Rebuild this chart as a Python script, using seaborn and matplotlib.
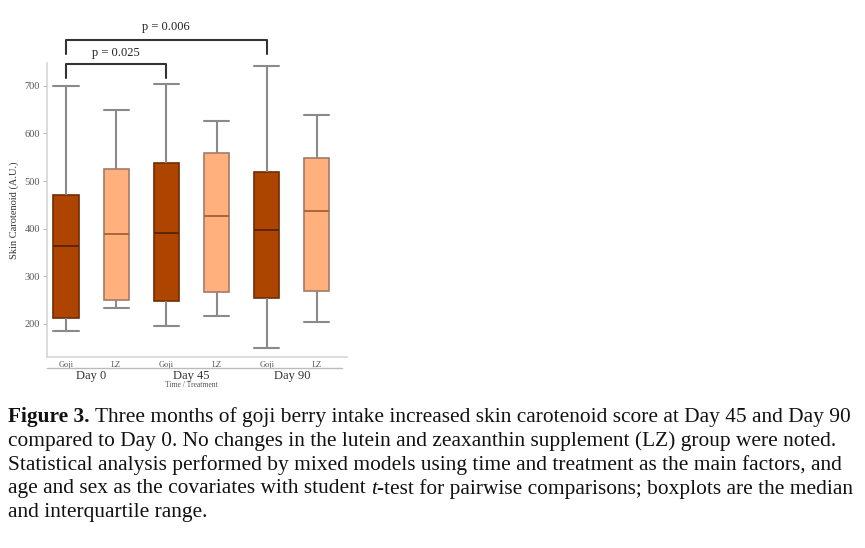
import numpy as np
import pandas as pd
import seaborn as sns
import matplotlib.pyplot as plt

# five-number summaries: low whisker, Q1, median, Q3, high whisker
days = ['Day 0', 'Day 0', 'Day 45', 'Day 45', 'Day 90', 'Day 90']
treatments = ['Goji', 'LZ', 'Goji', 'LZ', 'Goji', 'LZ']
low = [185, 234, 196, 216, 150, 204]
q1 = [213, 250, 248, 267, 255, 268]
median = [364, 389, 391, 427, 398, 437]
q3 = [471, 526, 538, 559, 519, 549]
high = [700, 650, 704, 627, 742, 638]

day_labels = ['Day 0', 'Day 45', 'Day 90']
pvals = ['p = 0.025', 'p = 0.006']

hue_order = ['Goji', 'LZ']
fill_colors = {'Goji': '#ad4500', 'LZ': '#ffb07c'}
edge_colors = {'Goji': '#6e2c05', 'LZ': '#a27a68'}
median_colors = {'Goji': '#5e2604', 'LZ': '#a8643c'}

rows = []
for i in range(6):
    grp = days[i] + ' ' + treatments[i]
    for v in [low[i], q1[i], median[i], q3[i], high[i]]:
        rows.append({'group': grp, 'treatment': treatments[i], 'value': v})
df = pd.DataFrame(rows)
order = [d + ' ' + t for d, t in zip(days, treatments)]

sns.set_style('white')
plt.rcParams['font.family'] = ['Liberation Serif', 'DejaVu Serif']

fig = plt.figure(figsize=(8.65, 5.48), dpi=100)
ax = fig.add_axes([0.0543, 0.3485, 0.3468, 0.5365])

sns.boxplot(data=df, x='group', y='value', hue='treatment', order=order,
            hue_order=hue_order, palette=fill_colors, dodge=False, width=0.5,
            whis=(0, 100), saturation=1, showfliers=False, legend=False,
            linewidth=1.4, capwidths=0.5, ax=ax)

# restyle boxes, one container per treatment
for name, cont in zip(hue_order, ax.containers):
    for b in cont.boxes:
        b.set_edgecolor(edge_colors[name])
        b.set_linewidth(1.2)
    for ln in cont.whiskers + cont.caps:
        ln.set_color('#8a8a8a')
        ln.set_linewidth(1.5)
    for ln in cont.medians:
        ln.set_color(median_colors[name])
        ln.set_linewidth(1.4)

ax.set_xlim(-0.38, 5.6)
ax.set_ylim(130, 748)
ax.set_yticks([200, 300, 400, 500, 600, 700])
ax.tick_params(axis='y', labelsize=7.5, labelcolor='#555555', length=3,
               color='#bbbbbb', left=True, pad=2)
ax.tick_params(axis='x', length=0, labelsize=6, labelcolor='#555555', pad=3)
ax.set_xticks(range(6))
ax.set_xticklabels(treatments)
ax.set_xlabel('')
ax.set_ylabel('Skin Carotenoid (A.U.)', fontsize=7.5, color='#333333', labelpad=4)
for s in ['top', 'right']:
    ax.spines[s].set_visible(False)
for s in ['left', 'bottom']:
    ax.spines[s].set_color('#d5d5d5')
    ax.spines[s].set_linewidth(1.2)

# grouping line and day labels under the ticks
ax.plot([0, 0.983], [-0.037, -0.037], transform=ax.transAxes, color='#bbbbbb',
        lw=1.0, clip_on=False)
for k, lab in enumerate(day_labels):
    ax.text(2 * k + 0.5, -0.065, lab, transform=ax.get_xaxis_transform(),
            ha='center', va='center', fontsize=9, color='#333333')
ax.text(2.5, -0.095, 'Time / Treatment', transform=ax.get_xaxis_transform(),
        ha='center', va='center', fontsize=5.5, color='#555555')

# significance brackets
brk = dict(color='#333333', lw=1.5, clip_on=False)
ax.plot([0, 0, 2, 2], [717, 746, 746, 717], **brk)
ax.text(1, 769, pvals[0], ha='center', va='center', fontsize=9, color='#222222')
ax.plot([0, 0, 4, 4], [767, 797, 797, 767], **brk)
ax.text(2, 824, pvals[1], ha='center', va='center', fontsize=9, color='#222222')

# caption
cap_size = 15.4
line_y = [417, 441, 465, 489, 513]
renderer = fig.canvas.get_renderer()


def put_pieces(y_px, pieces):
    x = 8.0
    for txt, kw in pieces:
        t = fig.text(x / 865, 1 - y_px / 548, txt, fontsize=cap_size, va='center',
                     ha='left', color='#111111', **kw)
        x += t.get_window_extent(renderer).width


put_pieces(line_y[0], [('Figure 3. ', {'fontweight': 'bold'}),
                       ('Three months of goji berry intake increased skin carotenoid score at Day 45 and Day 90', {})])
put_pieces(line_y[1], [('compared to Day 0. No changes in the lutein and zeaxanthin supplement (LZ) group were noted.', {})])
put_pieces(line_y[2], [('Statistical analysis performed by mixed models using time and treatment as the main factors, and', {})])
put_pieces(line_y[3], [('age and sex as the covariates with student ', {}), ('t', {'style': 'italic'}),
                       ('-test for pairwise comparisons; boxplots are the median', {})])
put_pieces(line_y[4], [('and interquartile range.', {})])

fig.savefig('out.png', dpi=100)
